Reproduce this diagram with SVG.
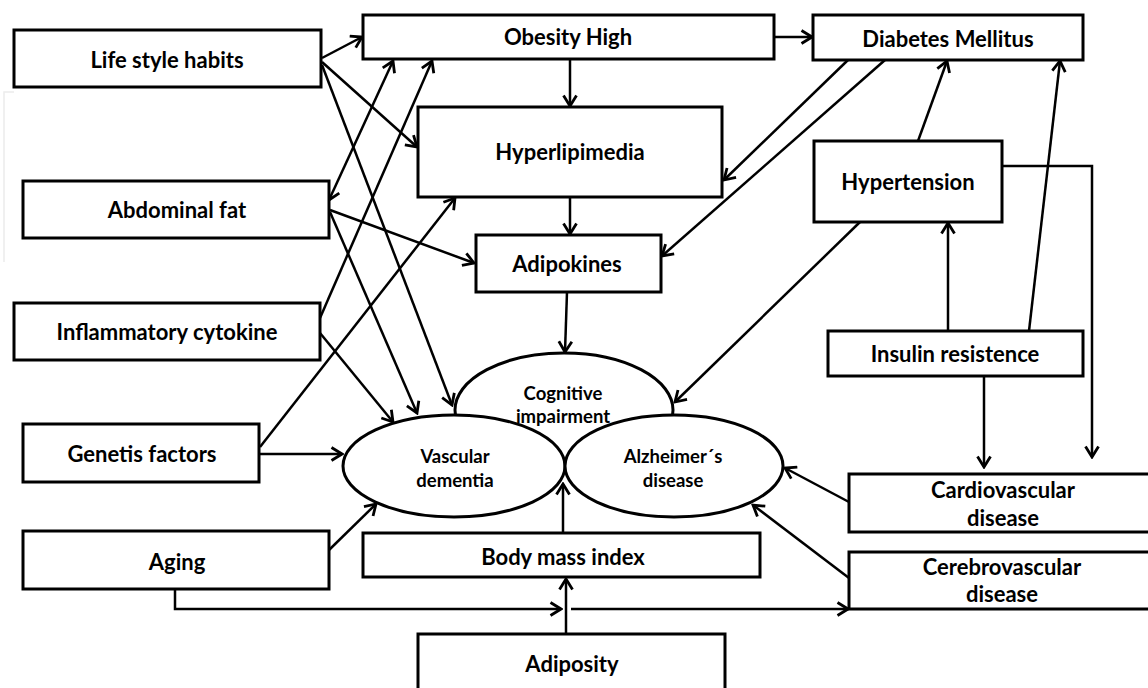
<svg xmlns="http://www.w3.org/2000/svg" width="1148" height="688" viewBox="0 0 1148 688">
<style>
.box{fill:#fff;stroke:#000;stroke-width:3}
.ell{fill:#fff;stroke:#000;stroke-width:3}
.t{font-family:Lato,"Open Sans","Liberation Sans",sans-serif;font-weight:bold;font-size:22px;fill:#000;text-anchor:middle}
.te{font-family:Lato,"Open Sans","Liberation Sans",sans-serif;font-weight:bold;font-size:18.5px;fill:#000;text-anchor:middle}
.c{fill:none;stroke:#000;stroke-width:2.5;marker-end:url(#a)}
.cb{fill:none;stroke:#000;stroke-width:2.5;marker-start:url(#s);marker-end:url(#a)}
</style>
<defs>
<marker id="a" viewBox="0 0 16 16" refX="14" refY="8" markerWidth="16" markerHeight="16" markerUnits="userSpaceOnUse" orient="auto">
<path d="M3.5,1.5 L14,8 L3.5,14.5" fill="none" stroke="#000" stroke-width="2.8"/>
</marker>
<marker id="s" viewBox="0 0 16 16" refX="2" refY="8" markerWidth="16" markerHeight="16" markerUnits="userSpaceOnUse" orient="auto">
<path d="M12.5,1.5 L2,8 L12.5,14.5" fill="none" stroke="#000" stroke-width="2.8"/>
</marker>
</defs>
<rect width="1148" height="688" fill="#fff"/>
<path d="M14,92 H4 V262" fill="none" stroke="#ececec" stroke-width="1.5"/>

<g id="connectors">
<path class="c" d="M322,58 L362,37"/>
<path class="c" d="M322,62 L417,147"/>
<path class="c" d="M322,65 L452,405"/>
<path class="cb" d="M329,200 L393,61"/>
<path class="c" d="M330,210 L474,263"/>
<path class="c" d="M330,212 L417,413"/>
<path class="c" d="M320,318 L432,61"/>
<path class="c" d="M320,333 L393,422"/>
<path class="c" d="M260,447 L455,198"/>
<path class="c" d="M259,454 L342,454"/>
<path class="c" d="M329,550 L376,504"/>
<path class="c" d="M175,589 V609 H561"/>
<path class="c" d="M571,609 H848"/>
<path class="c" d="M566,634 V579"/>
<path class="c" d="M563,533 V484"/>
<path class="c" d="M570,59 V106"/>
<path class="c" d="M570,197 V234"/>
<path class="c" d="M567,292 L565,352"/>
<path class="c" d="M774,37 H812"/>
<path class="c" d="M848,60 L724,180"/>
<path class="c" d="M885,60 L662,256"/>
<path class="c" d="M918,141 L947,61"/>
<path class="c" d="M1029,331 L1060,61"/>
<path class="c" d="M948,331 V223"/>
<path class="c" d="M1002,166 H1092 V457"/>
<path class="c" d="M984,376 V467"/>
<path class="c" d="M860,222 L675,402"/>
<path class="c" d="M849,502 L785,468"/>
<path class="c" d="M849,578 L753,505"/>
</g>

<g id="life-style"><rect class="box" x="14" y="30" width="307" height="57"/><text class="t" x="167" y="68">Life style habits</text></g>
<g id="abdominal-fat"><rect class="box" x="23" y="181" width="306" height="57"/><text class="t" x="177" y="218">Abdominal fat</text></g>
<g id="inflammatory"><rect class="box" x="14" y="303" width="306" height="57"/><text class="t" x="167" y="340">Inflammatory cytokine</text></g>
<g id="genetis"><rect class="box" x="23" y="424" width="236" height="58"/><text class="t" x="142" y="462">Genetis factors</text></g>
<g id="aging"><rect class="box" x="23" y="531" width="306" height="58"/><text class="t" x="177" y="570">Aging</text></g>
<g id="obesity"><rect class="box" x="363" y="15" width="411" height="44"/><text class="t" x="568" y="45">Obesity High</text></g>
<g id="hyperlipimedia"><rect class="box" x="418" y="107" width="304" height="90"/><text class="t" x="570" y="160">Hyperlipimedia</text></g>
<g id="adipokines"><rect class="box" x="476" y="235" width="185" height="57"/><text class="t" x="567" y="272">Adipokines</text></g>
<g id="diabetes"><rect class="box" x="813" y="15" width="270" height="45"/><text class="t" x="948" y="47">Diabetes Mellitus</text></g>
<g id="hypertension"><rect class="box" x="814" y="141" width="188" height="81"/><text class="t" x="908" y="190">Hypertension</text></g>
<g id="insulin"><rect class="box" x="828" y="331" width="255" height="45"/><text class="t" x="955" y="362">Insulin resistence</text></g>
<g id="cardiovascular"><rect class="box" x="849" y="474" width="305" height="58"/><text class="t" x="1003" y="498">Cardiovascular</text><text class="t" x="1003" y="526">disease</text></g>
<g id="cerebrovascular"><rect class="box" x="849" y="552" width="305" height="57"/><text class="t" x="1002" y="575">Cerebrovascular</text><text class="t" x="1002" y="602">disease</text></g>
<g id="bmi"><rect class="box" x="363" y="533" width="397" height="44"/><text class="t" x="563" y="565">Body mass index</text></g>
<g id="adiposity"><rect class="box" x="418" y="634" width="307" height="70"/><text class="t" x="572" y="672">Adiposity</text></g>

<g id="cognitive"><ellipse class="ell" cx="564" cy="410" rx="109" ry="57"/></g>
<g id="vascular"><ellipse class="ell" cx="454" cy="466" rx="111" ry="51"/><text class="te" x="455" y="463">Vascular</text><text class="te" x="455" y="487">dementia</text></g>
<g id="alzheimer"><ellipse class="ell" cx="674" cy="466" rx="109" ry="51"/><text class="te" x="673" y="463">Alzheimer´s</text><text class="te" x="673" y="487">disease</text></g>
<g id="cognitive-label"><text class="te" x="563" y="400">Cognitive</text><text class="te" x="563" y="423">impairment</text></g>
</svg>
